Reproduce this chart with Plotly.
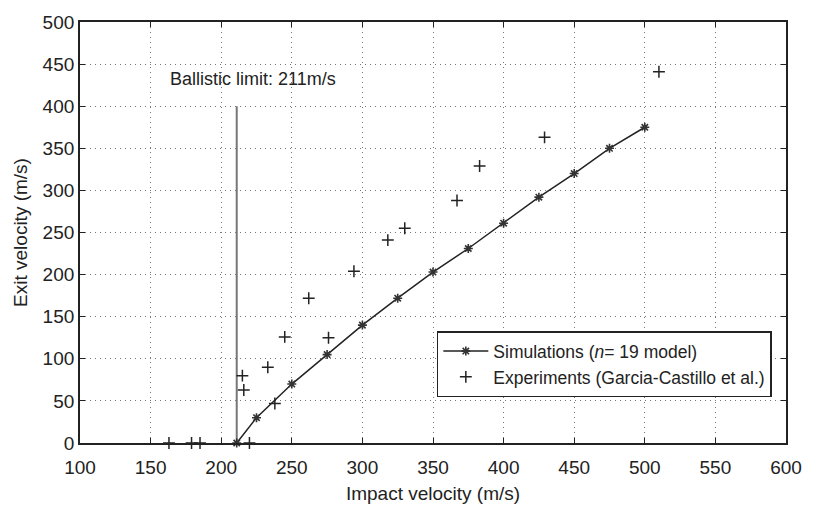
import plotly.graph_objects as go

# Simulation data (n=19 model)
sim_x = [211, 225, 250, 275, 300, 325, 350, 375, 400, 425, 450, 475, 500]
sim_y = [0, 30, 70, 105, 140, 172, 203, 231, 261, 292, 320, 350, 375]

# Experiments (Garcia-Castillo et al.)
exp_x = [163, 179, 185, 220, 215, 216, 233, 238, 245, 276, 262, 294, 318, 330, 367, 383, 429, 510]
exp_y = [0, 0, 0, 0, 80, 63, 90, 47, 126, 125, 172, 204, 241, 255, 288, 329, 363, 441]

ballistic_limit = 211
ballistic_top = 400

x_ticks = [100, 150, 200, 250, 300, 350, 400, 450, 500, 550, 600]
y_ticks = [0, 50, 100, 150, 200, 250, 300, 350, 400, 450, 500]

FONT = "Liberation Sans, Arial, Helvetica, sans-serif"
TXT = "#222222"

fig = go.Figure()

# Ballistic limit vertical line
fig.add_trace(go.Scatter(
    x=[ballistic_limit, ballistic_limit], y=[0, ballistic_top],
    mode="lines", line=dict(color="#777777", width=2),
    showlegend=False, hoverinfo="skip"))

fig.add_trace(go.Scatter(
    x=sim_x, y=sim_y, mode="lines+markers",
    name="Simulations (<i>n</i>= 19 model)",
    line=dict(color="#222222", width=1.5),
    marker=dict(symbol="asterisk-open", size=7.5, color="#333333",
                line=dict(color="#333333", width=1.6)),
    cliponaxis=False))

fig.add_trace(go.Scatter(
    x=exp_x, y=exp_y, mode="markers",
    name="Experiments (Garcia-Castillo et al.)",
    marker=dict(symbol="cross-thin-open", size=8.5, color="#222222",
                line=dict(color="#222222", width=1.5)),
    cliponaxis=False))

fig.add_annotation(
    x=162.6, y=432, xref="x", yref="y",
    text="Ballistic limit: 211m/s", showarrow=False,
    xanchor="left", yanchor="middle",
    font=dict(family=FONT, size=18, color=TXT))

axis_common = dict(
    showline=True, linecolor="#222222", linewidth=1.8, mirror="ticks",
    ticks="inside", ticklen=5, tickwidth=1, tickcolor="#222222",
    showgrid=True, gridcolor="#777777", griddash="1px,4px", gridwidth=1,
    zeroline=False,
    tickfont=dict(family=FONT, size=19, color=TXT),
)

fig.update_xaxes(
    range=[100, 600], tickmode="array", tickvals=x_ticks,
    ticktext=[str(v) for v in x_ticks], ticklabelstandoff=6,
    title=dict(text="Impact velocity (m/s)", standoff=10,
               font=dict(family=FONT, size=19, color=TXT)),
    **axis_common)

fig.update_yaxes(
    range=[0, 500], tickmode="array", tickvals=y_ticks,
    ticktext=[str(v) for v in y_ticks],
    title=dict(text="Exit velocity (m/s)", standoff=10,
               font=dict(family=FONT, size=19, color=TXT)),
    **axis_common)

fig.update_layout(
    width=814, height=513,
    margin=dict(l=80, r=18, t=12, b=68),
    paper_bgcolor="white", plot_bgcolor="white",
    font=dict(family=FONT, size=18, color=TXT),
    legend=dict(
        x=0.505, y=0.265, xanchor="left", yanchor="top",
        bgcolor="white", bordercolor="#222222", borderwidth=1.8,
        font=dict(family=FONT, size=17.5, color=TXT),
        tracegroupgap=0, itemwidth=45),
)

fig.write_html("out.html")
